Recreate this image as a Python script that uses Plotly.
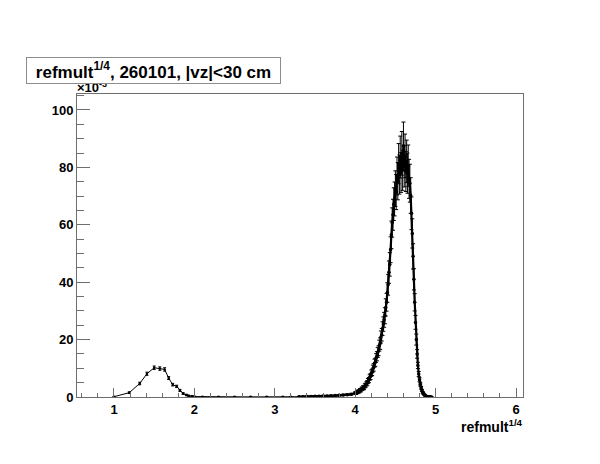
import plotly.graph_objects as go

# ---- data (values in units of 10^-3) ----
low_x = [1.00, 1.19, 1.32, 1.41, 1.50, 1.57, 1.63, 1.68, 1.73, 1.78, 1.82, 1.86, 1.90, 1.93, 1.97, 2.00]
low_y = [0.10, 1.5, 4.7, 8.1, 10.2, 9.9, 9.6, 6.6, 4.3, 3.7, 2.3, 1.2, 0.7, 0.4, 0.25, 0.15]
low_err = [0.1, 0.3, 0.45, 0.55, 0.6, 0.6, 0.6, 0.5, 0.45, 0.4, 0.35, 0.3, 0.25, 0.2, 0.15, 0.12]

flat_x = [2.10, 2.30, 2.50, 2.70, 2.90, 3.10, 3.20]
flat_y = [0.10, 0.06, 0.05, 0.05, 0.06, 0.08, 0.09]
flat_err = [0.05, 0.04, 0.04, 0.04, 0.04, 0.05, 0.05]

tail_x = [3.30, 3.35, 3.40, 3.45, 3.50, 3.55, 3.60, 3.65, 3.70, 3.75, 3.80, 3.85, 3.90, 3.95]
tail_y = [0.10, 0.12, 0.15, 0.20, 0.22, 0.28, 0.32, 0.38, 0.45, 0.50, 0.60, 0.70, 0.80, 0.95]
tail_err = [0.08, 0.08, 0.1, 0.1, 0.12, 0.12, 0.15, 0.15, 0.18, 0.2, 0.22, 0.25, 0.28, 0.3]

main_x = [4.00, 4.01, 4.02, 4.03, 4.04, 4.05, 4.06, 4.07, 4.08, 4.09,
          4.10, 4.11, 4.12, 4.13, 4.14, 4.15, 4.16, 4.17, 4.18, 4.19,
          4.20, 4.21, 4.22, 4.23, 4.24, 4.25, 4.26, 4.27, 4.28, 4.29,
          4.30, 4.31, 4.32, 4.33, 4.34, 4.35, 4.36, 4.37, 4.38, 4.39,
          4.40, 4.41, 4.42, 4.43, 4.44, 4.45, 4.46, 4.47, 4.48, 4.49,
          4.50, 4.51, 4.52, 4.53, 4.54, 4.55, 4.56, 4.57, 4.58, 4.59,
          4.60, 4.61, 4.62, 4.63, 4.64, 4.65, 4.66, 4.67, 4.68, 4.69,
          4.70, 4.71, 4.72, 4.73, 4.74, 4.75, 4.76, 4.77, 4.78, 4.79,
          4.80, 4.81, 4.82, 4.83, 4.84, 4.85, 4.86, 4.87, 4.88, 4.89,
          4.90, 4.91, 4.92, 4.93, 4.94, 4.95]
main_y = [1.4, 1.3, 1.7, 1.6, 2.0, 1.9, 2.4, 2.3, 2.8, 2.9,
          3.3, 3.2, 3.9, 4.1, 4.6, 4.9, 5.6, 5.9, 6.8, 7.1,
          8.3, 8.6, 9.9, 10.3, 11.8, 12.1, 13.6, 14.2, 15.5, 16.1,
          17.9, 18.6, 20.9, 21.7, 23.8, 25.4, 26.9, 28.3, 31.2, 33.0,
          36.4, 39.1, 43.5, 46.2, 51.3, 56.5, 60.8, 63.5, 67.2, 69.0,
          72.6, 71.4, 77.0, 75.2, 81.3, 77.5, 83.6, 78.2, 84.9, 79.0,
          87.5, 80.4, 84.0, 78.6, 82.1, 78.0, 80.6, 76.0, 74.5, 70.2,
          64.0, 57.0, 49.0, 41.0, 33.0, 26.0, 20.0, 15.0, 11.0, 8.0,
          6.0, 4.4, 3.2, 2.3, 1.6, 1.1, 0.8, 0.5, 0.32, 0.2,
          0.12, 0.07, 0.04, 0.02, 0.01, 0.0]
main_err = [0.4, 0.4, 0.45, 0.45, 0.5, 0.5, 0.55, 0.55, 0.6, 0.6,
            0.65, 0.65, 0.7, 0.7, 0.75, 0.8, 0.85, 0.9, 0.95, 1.0,
            1.1, 1.1, 1.2, 1.3, 1.4, 1.4, 1.5, 1.6, 1.7, 1.7,
            1.9, 2.0, 2.1, 2.2, 2.4, 2.5, 2.6, 2.8, 3.0, 3.1,
            3.4, 3.6, 3.9, 4.1, 4.5, 4.8, 5.1, 5.4, 5.7, 5.9,
            6.2, 6.1, 6.6, 6.5, 7.0, 6.8, 7.3, 6.9, 7.6, 7.0,
            8.3, 7.2, 7.6, 7.0, 7.4, 7.0, 7.2, 6.8, 6.6, 6.2,
            5.7, 5.1, 4.4, 3.7, 3.0, 2.4, 1.9, 1.5, 1.1, 0.9,
            0.7, 0.55, 0.45, 0.35, 0.3, 0.25, 0.2, 0.15, 0.1, 0.08,
            0.06, 0.04, 0.03, 0.02, 0.01, 0.0]

title_text = "refmult<sup>1/4</sup>, 260101, |vz|&lt;30 cm"
xlabel_text = "refmult<sup>1/4</sup>"
exp_text = "×10<sup>-3</sup>"

FONT = "Liberation Sans, Arial, Helvetica, sans-serif"
AXC = "#6e6e6e"

fig = go.Figure()
# low-multiplicity bump and flat region: thin line with small dots
fig.add_trace(go.Scatter(
    x=low_x + flat_x + tail_x[:1], y=low_y + flat_y + tail_y[:1], mode="lines+markers",
    line=dict(color="black", width=1),
    marker=dict(color="black", size=2.5),
    error_y=dict(type="data", array=low_err + flat_err + tail_err[:1], color="black", thickness=1, width=1.5),
    showlegend=False, hoverinfo="skip",
))
# main peak: dense points form a thick band
fig.add_trace(go.Scatter(
    x=tail_x + main_x, y=tail_y + main_y, mode="lines+markers",
    line=dict(color="black", width=2.2),
    marker=dict(color="black", size=3.5),
    error_y=dict(type="data", array=tail_err + main_err, color="black", thickness=1, width=2),
    showlegend=False, hoverinfo="skip",
))

# page has an 8px body margin: figure is offset by (8, 8)
fig.update_layout(
    width=584, height=448,
    margin=dict(l=69, r=69, t=86, b=59),
    paper_bgcolor="white", plot_bgcolor="white",
    font=dict(family=FONT, color="black"),
)
fig.update_xaxes(
    range=[0.54, 6.087], tickmode="linear", tick0=1, dtick=1,
    showgrid=False, zeroline=False,
    showline=True, linecolor=AXC, linewidth=1, mirror=True,
    ticks="inside", ticklen=9, tickcolor=AXC, tickwidth=1,
    minor=dict(ticks="inside", ticklen=4.5, dtick=0.2, tick0=0, tickcolor=AXC, showgrid=False),
    tickfont=dict(family=FONT, size=13, weight="bold", color="black"),
)
fig.update_yaxes(
    range=[0, 105.57], tickmode="linear", tick0=0, dtick=20,
    showgrid=False, zeroline=False,
    showline=True, linecolor=AXC, linewidth=1, mirror=True,
    ticks="inside", ticklen=13, tickcolor=AXC, tickwidth=1,
    minor=dict(ticks="inside", ticklen=6.5, dtick=5, tick0=0, tickcolor=AXC, showgrid=False),
    tickfont=dict(family=FONT, size=13, weight="bold", color="black"),
)

fig.add_annotation(
    text=exp_text, xref="paper", yref="paper", x=0, y=1.0,
    xanchor="left", yanchor="bottom", showarrow=False, xshift=-2, yshift=-3,
    font=dict(family=FONT, size=13, weight="bold", color="black"),
)
fig.add_annotation(
    text=title_text, xref="paper", yref="paper", x=0.1715, y=1.0766,
    xanchor="center", yanchor="middle", showarrow=False,
    width=253, height=25, borderpad=0, borderwidth=1,
    bordercolor="#8c8c8c", bgcolor="white",
    font=dict(family=FONT, size=17, weight="bold", color="black"),
)
fig.add_annotation(
    text=xlabel_text, xref="paper", yref="paper", x=1.0, y=-0.079,
    xanchor="right", yanchor="middle", showarrow=False, xshift=2, yshift=-5,
    font=dict(family=FONT, size=14, weight="bold", color="black"),
)

fig.write_html("out.html")
